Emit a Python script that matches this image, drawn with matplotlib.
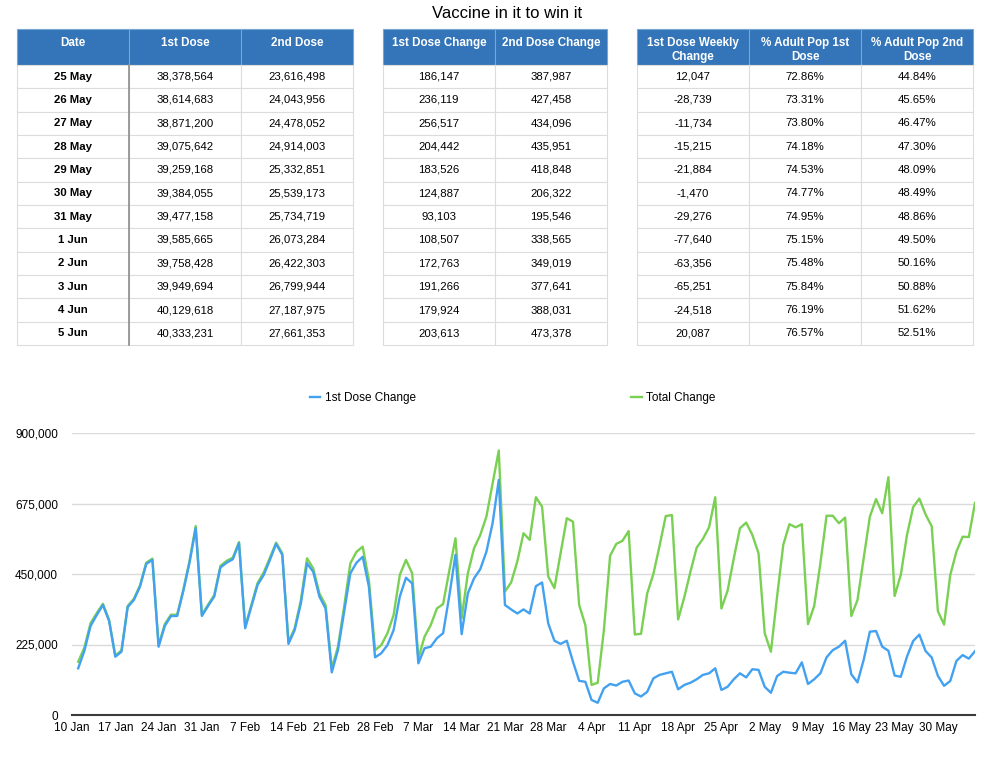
import pandas as pd
import matplotlib
matplotlib.use("Agg")
import matplotlib.pyplot as plt
import matplotlib.dates as mdates
from matplotlib.ticker import FuncFormatter
from matplotlib.transforms import Affine2D

plt.rcParams['font.family'] = ['Liberation Sans', 'DejaVu Sans']

# --- table data, 25 May to 5 Jun ---
table_dates = ['25 May', '26 May', '27 May', '28 May', '29 May', '30 May',
               '31 May', '1 Jun', '2 Jun', '3 Jun', '4 Jun', '5 Jun']
first_dose = [38378564, 38614683, 38871200, 39075642, 39259168, 39384055,
              39477158, 39585665, 39758428, 39949694, 40129618, 40333231]
second_dose = [23616498, 24043956, 24478052, 24914003, 25332851, 25539173,
               25734719, 26073284, 26422303, 26799944, 27187975, 27661353]
first_change = [186147, 236119, 256517, 204442, 183526, 124887,
                93103, 108507, 172763, 191266, 179924, 203613]
second_change = [387987, 427458, 434096, 435951, 418848, 206322,
                 195546, 338565, 349019, 377641, 388031, 473378]
weekly_change = [12047, -28739, -11734, -15215, -21884, -1470,
                 -29276, -77640, -63356, -65251, -24518, 20087]
pct_first = [72.86, 73.31, 73.80, 74.18, 74.53, 74.77,
             74.95, 75.15, 75.48, 75.84, 76.19, 76.57]
pct_second = [44.84, 45.65, 46.47, 47.30, 48.09, 48.49,
              48.86, 49.50, 50.16, 50.88, 51.62, 52.51]

# --- daily changes 11 Jan to 24 May ---
first_change_hist = [
    149000, 205000, 284000, 319000, 351000, 300000, 186000, 202000, 344000, 367000,
    410000, 482000, 495000, 218000, 284000, 316000, 316000, 396000, 486000, 596000,
    316000, 348000, 378000, 471000, 486000, 497000, 548000, 277000, 346000, 415000,
    447000, 495000, 546000, 511000, 227000, 271000, 356000, 484000, 457000, 378000,
    340000, 136000, 207000, 330000, 452000, 486000, 505000, 410000, 184000, 197000,
    223000, 271000, 378000, 438000, 420000, 165000, 213000, 218000, 245000, 261000,
    380000, 511000, 258000, 388000, 436000, 465000, 521000, 612000, 750000, 351000,
    337000, 324000, 337000, 324000, 411000, 423000, 292000, 237000, 227000, 237000,
    170000, 109000, 106000, 48000, 39000, 85000, 99000, 94000, 106000, 110000,
    69000, 59000, 74000, 117000, 128000, 133000, 138000, 82000, 96000, 103000,
    114000, 128000, 133000, 149000, 80000, 90000, 114000, 133000, 120000, 146000,
    144000, 90000, 71000, 124000, 138000, 135000, 133000, 168000, 99000, 114000,
    133000, 184000, 207000, 218000, 237000, 130000, 104000, 176000, 266000, 268000,
    218000, 205000, 126000, 122000]
total_change_hist = [
    170000, 215000, 293000, 325000, 355000, 303000, 190000, 206000, 348000, 371000,
    414000, 486000, 499000, 222000, 290000, 320000, 320000, 400000, 492000, 603000,
    320000, 352000, 383000, 476000, 492000, 502000, 552000, 282000, 352000, 421000,
    455000, 502000, 550000, 516000, 233000, 277000, 366000, 500000, 468000, 388000,
    351000, 149000, 218000, 346000, 484000, 521000, 537000, 431000, 207000, 223000,
    261000, 319000, 447000, 495000, 452000, 181000, 250000, 287000, 340000, 354000,
    460000, 564000, 309000, 452000, 532000, 574000, 633000, 739000, 844000, 394000,
    423000, 490000, 580000, 559000, 695000, 665000, 442000, 405000, 516000, 628000,
    617000, 351000, 287000, 96000, 103000, 271000, 508000, 546000, 556000, 587000,
    257000, 259000, 388000, 450000, 540000, 635000, 638000, 305000, 376000, 458000,
    534000, 562000, 599000, 695000, 340000, 397000, 500000, 596000, 614000, 575000,
    516000, 261000, 202000, 378000, 543000, 609000, 599000, 609000, 290000, 348000,
    484000, 636000, 636000, 612000, 630000, 316000, 367000, 500000, 633000, 689000,
    644000, 759000, 380000, 447000]

first_series = first_change_hist + first_change
total_series = total_change_hist + [a + b for a, b in zip(first_change, second_change)]

W, H = 1000, 757
fig = plt.figure(figsize=(W / 100, H / 100), dpi=100)


def box(x, y, w, h):
    # pixel box (top-left origin) -> figure fractions
    return [x / W, 1 - (y + h) / H, w / W, h / H]


fig.text(507 / W, 1 - 14 / H, 'Vaccine in it to win it', ha='center', va='center', fontsize=12)

HEAD = '#3375b8'
TOP, HEAD_H, BODY_H = 29, 36, 280


def make_table(x, w, headers, columns, bold_first=False):
    ax = fig.add_axes(box(x, TOP, w, HEAD_H + BODY_H))
    ax.axis('off')
    rows = [list(r) for r in zip(*columns)]
    tbl = ax.table(cellText=rows, colLabels=headers, cellLoc='center', bbox=[0, 0, 1, 1])
    tbl.auto_set_font_size(False)
    tbl.set_fontsize(8.2)
    total = HEAD_H + BODY_H
    for (r, c), cell in tbl.get_celld().items():
        cell.set_width(1.0 / len(headers))
        txt = cell.get_text()
        if r == 0:
            cell.set_height(HEAD_H / total)
            cell.set_facecolor(HEAD)
            cell.set_edgecolor('#78a6d4')
            cell.set_linewidth(0.8)
            txt.set_color('white')
            txt.set_fontweight('bold')
            txt.set_fontsize(8.4)
            txt.set_linespacing(1.3)
            # nudge header text down a few pixels
            txt.set_transform(Affine2D().translate(0, -3))
        else:
            cell.set_height(BODY_H / len(rows) / total)
            cell.set_edgecolor('#dcdcdc')
            cell.set_linewidth(0.8)
            if bold_first and c == 0:
                txt.set_fontweight('bold')
    return ax


fmt_int = lambda vals: [f"{v:,}" for v in vals]
fmt_pct = lambda vals: [f"{v:.2f}%" for v in vals]

# single-line headers get a blank second line so they sit at the top like the two-line ones
ax1 = make_table(17, 336, ['Date\n ', '1st Dose\n ', '2nd Dose\n '],
                 [table_dates, fmt_int(first_dose), fmt_int(second_dose)], bold_first=True)
ax1.plot([1 / 3, 1 / 3], [0, BODY_H / (HEAD_H + BODY_H)], color='#8c8c8c', lw=1.2,
         transform=ax1.transAxes, clip_on=False, zorder=5)
make_table(383, 224, ['1st Dose Change\n ', '2nd Dose Change\n '],
           [fmt_int(first_change), fmt_int(second_change)])
make_table(637, 336, ['1st Dose Weekly\nChange', '% Adult Pop 1st\nDose', '% Adult Pop 2nd\nDose'],
           [fmt_int(weekly_change), fmt_pct(pct_first), fmt_pct(pct_second)])

# --- line chart ---
ax = fig.add_axes(box(72, 433, 903, 282))
days = pd.date_range('2021-01-11', periods=len(first_series))
l_total, = ax.plot(days, total_series, color='#79d052', lw=1.7, label='Total Change', zorder=2)
l_first, = ax.plot(days, first_series, color='#42a1f0', lw=1.7, label='1st Dose Change', zorder=3)

ax.set_xlim(pd.Timestamp('2021-01-10'), pd.Timestamp('2021-06-05'))
ax.set_ylim(0, 900000)
ax.set_yticks([0, 225000, 450000, 675000, 900000])
ax.yaxis.set_major_formatter(FuncFormatter(lambda v, p: f"{int(v):,}"))
ax.set_xticks(pd.date_range('2021-01-10', '2021-05-30', freq='7D'))
ax.xaxis.set_major_formatter(mdates.DateFormatter('%-d %b'))
ax.tick_params(axis='both', length=0, labelsize=8.5, colors='black')
ax.tick_params(axis='y', pad=10)
ax.tick_params(axis='x', pad=5)
ax.yaxis.grid(True, color='#dadada', lw=1)
ax.set_axisbelow(True)
for s in ['top', 'left', 'right']:
    ax.spines[s].set_visible(False)
ax.spines['bottom'].set_color('#3a3a3a')
ax.spines['bottom'].set_linewidth(1.5)

ax.legend(handles=[l_first, l_total], loc='center', bbox_to_anchor=(0.488, 1.124), ncol=2,
          frameon=False, fontsize=8.5, handlelength=0.9, handletextpad=0.4,
          columnspacing=18.2, borderpad=0)

fig.savefig('out.png', dpi=100)
